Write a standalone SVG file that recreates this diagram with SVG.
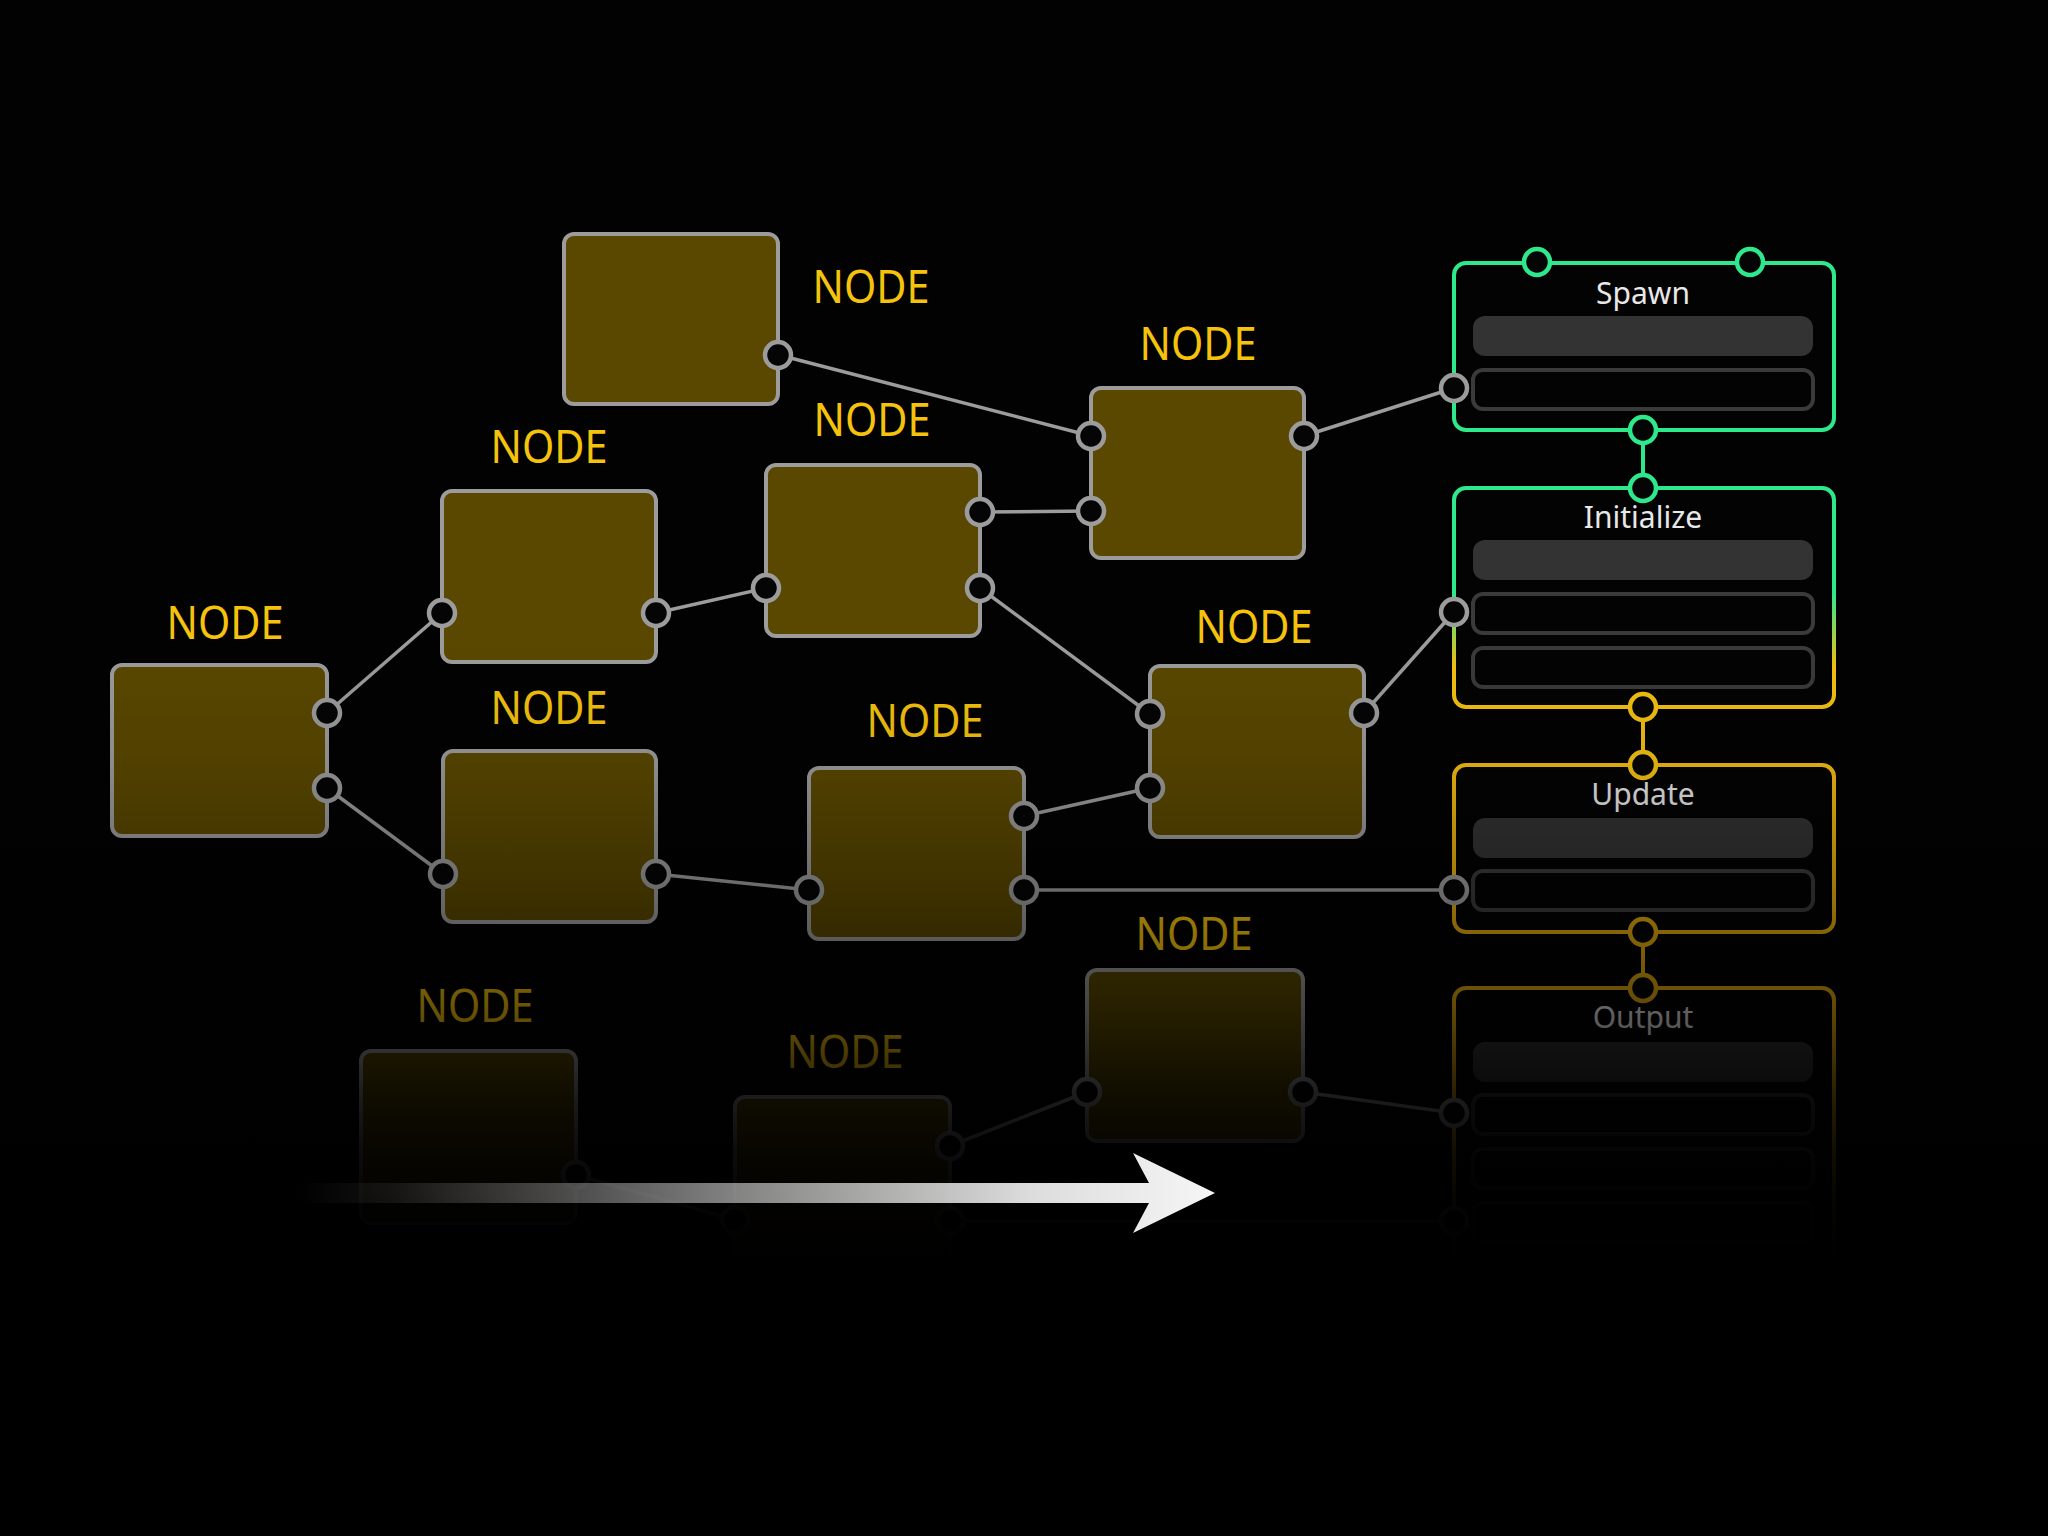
<svg xmlns="http://www.w3.org/2000/svg" width="2048" height="1536" viewBox="0 0 2048 1536">
<defs>
<style>
.node{fill:#5a4800;stroke:#9c9c9c;stroke-width:4}
.port{fill:#050505;stroke:#9c9c9c;stroke-width:4.5}
.lbl{font-family:"Noto Sans","Open Sans",sans-serif;font-size:46px;fill:#f5c30c;text-anchor:middle}
.ttl{font-family:"Noto Sans","Open Sans",sans-serif;font-size:30px;fill:#e8e8e8;text-anchor:middle}
.wire{stroke:#9c9c9c;stroke-width:3.5;fill:none}
.bar{fill:#333333}
.obar{fill:none;stroke:#3a3a3a;stroke-width:4}
.gport{fill:#050505;stroke:#2ee88c;stroke-width:4.5}
.yport{fill:#050505;stroke:#f5c211;stroke-width:4.5}
.dport{fill:#050505;stroke:#e0a80c;stroke-width:4.5}
</style>
<linearGradient id="initG" x1="0" y1="488" x2="0" y2="707" gradientUnits="userSpaceOnUse">
<stop offset="0" stop-color="#2ee88c"/>
<stop offset="0.48" stop-color="#2ee88c"/>
<stop offset="0.82" stop-color="#f5c211"/>
<stop offset="1" stop-color="#f5c211"/>
</linearGradient>
<linearGradient id="updG" x1="0" y1="765" x2="0" y2="932" gradientUnits="userSpaceOnUse">
<stop offset="0" stop-color="#f5bd10"/>
<stop offset="1" stop-color="#e0a80c"/>
</linearGradient>
<linearGradient id="fade" x1="0" y1="640" x2="0" y2="1260" gradientUnits="userSpaceOnUse">
<stop offset="0" stop-color="#000" stop-opacity="0"/>
<stop offset="0.194" stop-color="#000" stop-opacity="0.1"/>
<stop offset="0.387" stop-color="#000" stop-opacity="0.3"/>
<stop offset="0.581" stop-color="#000" stop-opacity="0.55"/>
<stop offset="0.742" stop-color="#000" stop-opacity="0.83"/>
<stop offset="0.823" stop-color="#000" stop-opacity="0.92"/>
<stop offset="0.903" stop-color="#000" stop-opacity="0.97"/>
<stop offset="1" stop-color="#000" stop-opacity="1"/>
</linearGradient>
<linearGradient id="arrowG" x1="300" y1="0" x2="1215" y2="0" gradientUnits="userSpaceOnUse">
<stop offset="0" stop-color="#f4f4f4" stop-opacity="0"/>
<stop offset="0.1" stop-color="#d8d8d8" stop-opacity="0.08"/>
<stop offset="0.45" stop-color="#e0e0e0" stop-opacity="0.55"/>
<stop offset="0.8" stop-color="#f0f0f0" stop-opacity="0.92"/>
<stop offset="1" stop-color="#f6f6f6" stop-opacity="1"/>
</linearGradient>
</defs>
<rect x="0" y="0" width="2048" height="1536" fill="#020202"/>

<g id="connectors">
<line class="wire" x1="779" y1="355" x2="1091" y2="436"/>
<line class="wire" x1="1304" y1="436" x2="1454" y2="388"/>
<line class="wire" x1="980" y1="512" x2="1091" y2="511"/>
<line class="wire" x1="327" y1="713" x2="442" y2="613"/>
<line class="wire" x1="656" y1="613" x2="766" y2="588"/>
<line class="wire" x1="980" y1="588" x2="1150" y2="714"/>
<line class="wire" x1="1364" y1="713" x2="1454" y2="612"/>
<line class="wire" x1="327" y1="788" x2="443" y2="874"/>
<line class="wire" x1="656" y1="874" x2="809" y2="890"/>
<line class="wire" x1="1024" y1="816" x2="1150" y2="788"/>
<line class="wire" x1="1024" y1="890" x2="1454" y2="890"/>
<line class="wire" x1="576" y1="1175" x2="735" y2="1220"/>
<line class="wire" x1="950" y1="1146" x2="1087" y2="1092"/>
<line class="wire" x1="1303" y1="1092" x2="1454" y2="1113"/>
<line class="wire" x1="950" y1="1221" x2="1454" y2="1221"/>
<line x1="1643" y1="430" x2="1643" y2="488" stroke="#2ee88c" stroke-width="4"/>
<line x1="1643" y1="707" x2="1643" y2="765" stroke="#f5c211" stroke-width="4"/>
<line x1="1643" y1="932" x2="1643" y2="988" stroke="#e0a80c" stroke-width="4"/>
</g>

<g id="node-a">
<rect class="node" x="564" y="234" width="214" height="170" rx="10"/>
<circle class="port" cx="778" cy="355" r="13"/>
<text class="lbl" x="871" y="303" textLength="117" lengthAdjust="spacingAndGlyphs">NODE</text>
</g>
<g id="node-b">
<rect class="node" x="1091" y="388" width="213" height="170" rx="10"/>
<circle class="port" cx="1091" cy="436" r="13"/>
<circle class="port" cx="1091" cy="511" r="13"/>
<circle class="port" cx="1304" cy="436" r="13"/>
<text class="lbl" x="1198" y="360" textLength="117" lengthAdjust="spacingAndGlyphs">NODE</text>
</g>
<g id="node-c">
<rect class="node" x="442" y="491" width="214" height="171" rx="10"/>
<circle class="port" cx="442" cy="613" r="13"/>
<circle class="port" cx="656" cy="613" r="13"/>
<text class="lbl" x="549" y="463" textLength="117" lengthAdjust="spacingAndGlyphs">NODE</text>
</g>
<g id="node-d">
<rect class="node" x="766" y="465" width="214" height="171" rx="10"/>
<circle class="port" cx="766" cy="588" r="13"/>
<circle class="port" cx="980" cy="512" r="13"/>
<circle class="port" cx="980" cy="588" r="13"/>
<text class="lbl" x="872" y="436" textLength="117" lengthAdjust="spacingAndGlyphs">NODE</text>
</g>
<g id="node-e">
<rect class="node" x="112" y="665" width="215" height="171" rx="10"/>
<circle class="port" cx="327" cy="713" r="13"/>
<circle class="port" cx="327" cy="788" r="13"/>
<text class="lbl" x="225" y="639" textLength="117" lengthAdjust="spacingAndGlyphs">NODE</text>
</g>
<g id="node-f">
<rect class="node" x="443" y="751" width="213" height="171" rx="10"/>
<circle class="port" cx="443" cy="874" r="13"/>
<circle class="port" cx="656" cy="874" r="13"/>
<text class="lbl" x="549" y="724" textLength="117" lengthAdjust="spacingAndGlyphs">NODE</text>
</g>
<g id="node-g">
<rect class="node" x="809" y="768" width="215" height="171" rx="10"/>
<circle class="port" cx="809" cy="890" r="13"/>
<circle class="port" cx="1024" cy="816" r="13"/>
<circle class="port" cx="1024" cy="890" r="13"/>
<text class="lbl" x="925" y="737" textLength="117" lengthAdjust="spacingAndGlyphs">NODE</text>
</g>
<g id="node-h">
<rect class="node" x="1150" y="666" width="214" height="171" rx="10"/>
<circle class="port" cx="1150" cy="714" r="13"/>
<circle class="port" cx="1150" cy="788" r="13"/>
<circle class="port" cx="1364" cy="713" r="13"/>
<text class="lbl" x="1254" y="643" textLength="117" lengthAdjust="spacingAndGlyphs">NODE</text>
</g>
<g id="node-i">
<rect class="node" x="361" y="1051" width="215" height="172" rx="10"/>
<circle class="port" cx="576" cy="1175" r="13"/>
<text class="lbl" x="475" y="1022" textLength="117" lengthAdjust="spacingAndGlyphs">NODE</text>
</g>
<g id="node-j">
<rect class="node" x="735" y="1097" width="215" height="170" rx="10"/>
<circle class="port" cx="735" cy="1220" r="13"/>
<circle class="port" cx="950" cy="1146" r="13"/>
<circle class="port" cx="950" cy="1221" r="13"/>
<text class="lbl" x="845" y="1068" textLength="117" lengthAdjust="spacingAndGlyphs">NODE</text>
</g>
<g id="node-k">
<rect class="node" x="1087" y="970" width="216" height="171" rx="10"/>
<circle class="port" cx="1087" cy="1092" r="13"/>
<circle class="port" cx="1303" cy="1092" r="13"/>
<text class="lbl" x="1194" y="950" textLength="117" lengthAdjust="spacingAndGlyphs">NODE</text>
</g>

<g id="spawn">
<rect x="1454" y="263" width="380" height="167" rx="12" fill="#030303" stroke="#2ee88c" stroke-width="4"/>
<text class="ttl" x="1643" y="304">Spawn</text>
<rect class="bar" x="1473" y="316" width="340" height="40" rx="12"/>
<rect class="obar" x="1473" y="370" width="340" height="39" rx="10"/>
<circle class="gport" cx="1537" cy="262" r="13"/>
<circle class="gport" cx="1750" cy="262" r="13"/>
<circle class="gport" cx="1643" cy="430" r="13"/>
<circle class="port" cx="1454" cy="388" r="13"/>
</g>
<g id="initialize">
<rect x="1454" y="488" width="380" height="219" rx="12" fill="#030303" stroke="url(#initG)" stroke-width="4"/>
<text class="ttl" x="1643" y="528">Initialize</text>
<rect class="bar" x="1473" y="540" width="340" height="40" rx="12"/>
<rect class="obar" x="1473" y="594" width="340" height="39" rx="10"/>
<rect class="obar" x="1473" y="648" width="340" height="39" rx="10"/>
<circle class="gport" cx="1643" cy="488" r="13"/>
<circle class="yport" cx="1643" cy="707" r="13"/>
<circle class="port" cx="1454" cy="612" r="13"/>
</g>
<g id="update">
<rect x="1454" y="765" width="380" height="167" rx="12" fill="#030303" stroke="url(#updG)" stroke-width="4"/>
<text class="ttl" x="1643" y="805">Update</text>
<rect class="bar" x="1473" y="818" width="340" height="40" rx="12"/>
<rect class="obar" x="1473" y="871" width="340" height="39" rx="10"/>
<circle class="yport" cx="1643" cy="765" r="13"/>
<circle class="dport" cx="1643" cy="932" r="13"/>
<circle class="port" cx="1454" cy="890" r="13"/>
</g>
<g id="output">
<rect x="1454" y="988" width="380" height="274" rx="12" fill="#030303" stroke="#e0a80c" stroke-width="4"/>
<text class="ttl" x="1643" y="1028">Output</text>
<rect class="bar" x="1473" y="1042" width="340" height="40" rx="12"/>
<rect class="obar" x="1473" y="1095" width="340" height="39" rx="10"/>
<rect class="obar" x="1473" y="1149" width="340" height="39" rx="10"/>
<rect class="obar" x="1473" y="1203" width="340" height="39" rx="10"/>
<circle class="dport" cx="1643" cy="988" r="13"/>
<circle class="port" cx="1454" cy="1113" r="13"/>
<circle class="port" cx="1454" cy="1221" r="13"/>
</g>

<rect x="0" y="600" width="2048" height="936" fill="url(#fade)"/>

<g id="arrow">
<path d="M300,1183 L1149,1183 L1133,1153 L1215,1193 L1133,1233 L1149,1203 L300,1203 Z" fill="url(#arrowG)"/>
</g>
</svg>
